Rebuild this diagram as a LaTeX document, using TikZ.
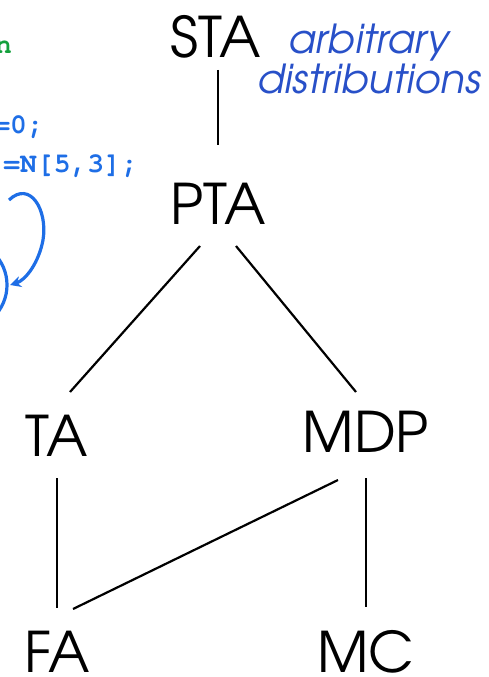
\documentclass[tikz,border=0pt]{standalone}
\usepackage{fontspec}
\usetikzlibrary{arrows.meta}
\setmainfont{TeX Gyre Adventor}
\setmonofont{TeX Gyre Cursor}
\definecolor{codeblue}{RGB}{30,110,230}
\definecolor{noteblue}{RGB}{40,80,200}
\definecolor{codegreen}{RGB}{20,160,60}
\begin{document}
\begin{tikzpicture}[x=1pt,y=-1pt,
  big/.style={font=\fontsize{56}{56}\selectfont, inner sep=0pt, text=black, anchor=base},
  edge/.style={line width=2.2pt, black},
  code/.style={font=\ttfamily\bfseries\fontsize{28}{28}\selectfont, text=codeblue, inner sep=0pt}]
\useasboundingbox (0,0) rectangle (488,677);
\clip (0,0) rectangle (488,677);
\node[big] (sta) at (216,58) {STA};
\node[big] (pta) at (218,224) {PTA};
\node[big] (ta) at (57,456) {TA};
\node[big] (mdp) at (366,452) {MDP};
\node[big] (fa) at (57,672) {FA};
\node[big] (mc) at (366,672) {MC};
\node[font=\itshape\fontsize{40}{40}\selectfont, text=noteblue, align=center, inner sep=0pt, anchor=base] (note) at (369,93) {arbitrary\\distributions};
% connectors
\draw[edge] (218,70) -- (218,145);
\draw[edge] (200,246) -- (70,392);
\draw[edge] (236,246) -- (356,392);
\draw[edge] (57,478) -- (57,608);
\draw[edge] (366,478) -- (366,607);
\draw[edge] (338,480) -- (73,609);
% partial code on the left
\node[font=\ttfamily\bfseries\fontsize{28}{28}\selectfont, text=codegreen, inner sep=0pt, anchor=base east] (g) at (12,53) {n};
\node[code, anchor=base east] (c1) at (44,133) {:=0;};
\node[code, anchor=base east] (c2) at (138,172) {:=N[5,3];};
\draw[codeblue, line width=3.2pt, -{Stealth[length=11pt,width=11pt]}] (9,200) .. controls (30,180) and (48,210) .. (43,240) .. controls (39,262) and (26,280) .. (10,285);
\draw[codeblue, line width=3.2pt] (-38,285) circle (45);
\end{tikzpicture}
\end{document}
